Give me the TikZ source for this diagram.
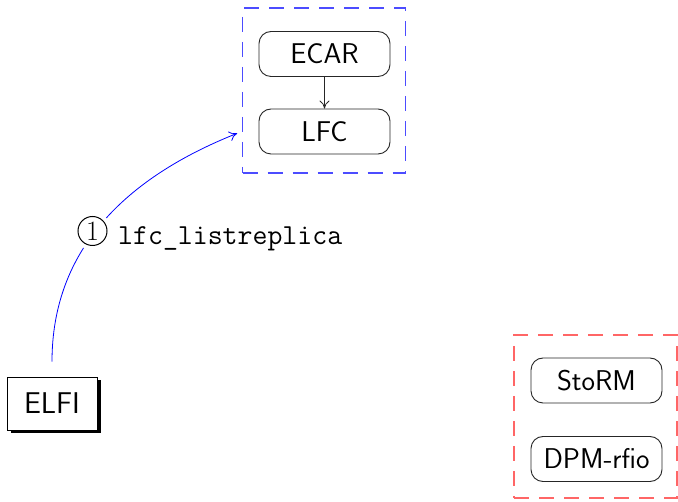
\documentclass[tikz,border=0pt]{standalone}
\usepackage{fontspec}
\usetikzlibrary{shadows,arrows.meta,calc}
\begin{document}
\begin{tikzpicture}[x=1pt,y=-1pt,
  bigfont/.style={font=\sffamily\fontsize{28.6}{34}\selectfont},
  roundbox/.style={bigfont, draw=black!85, line width=0.9pt, rounded corners=12pt,
    minimum width=131pt, minimum height=45pt, inner sep=6pt},
  groupbox/.style={draw, line width=1.4pt, dash pattern=on 15pt off 10pt,
    minimum width=163pt, minimum height=165pt},
  arr/.style={-{To[length=8pt,width=10pt]}, line width=0.8pt}
]
\useasboundingbox (0,0) rectangle (678,502);
% group boxes
\node[groupbox, draw=blue!70] (grpA) at (324,90.5) {};
\node[groupbox, draw=red!60, minimum height=163pt] (grpB) at (595.5,416.5) {};
% nodes
\node[roundbox] (ECAR) at (324.5,54) {ECAR};
\node[roundbox] (LFC) at (324.5,131.5) {LFC};
\node[roundbox] (StoRM) at (596.5,380.5) {StoRM};
\node[roundbox] (DPM) at (596.5,459) {DPM-rfio};
\node[bigfont, draw=black, line width=0.9pt, fill=white, minimum width=90pt, minimum height=53pt,
  drop shadow={shadow xshift=3.5pt, shadow yshift=-3.5pt, opacity=1, fill=black}] (ELFI) at (52,403.5) {\fontsize{30}{34}\selectfont ELFI};
% connectors
\draw[arr, black!85] (ECAR) -- (LFC);
\coordinate (src) at ($(ELFI.north)+(0,-15)$);
\coordinate (tgt) at (grpA.west |- LFC.west);
\draw[arr, blue, shorten >=5pt] (src) .. controls (52,250) and (125,178) .. (tgt);
% label
\node[circle, draw=black, line width=1pt, fill=white, minimum size=29pt, inner sep=0pt,
  font=\fontsize{28}{32}\selectfont, preaction={draw=white, line width=9pt}] (one) at (92.5,231) {1};
\node[anchor=base west, inner sep=0pt, font=\ttfamily\fontsize{29}{34}\selectfont] (lbl) at (118,245) {lfc\_listreplica};
\end{tikzpicture}
\end{document}
